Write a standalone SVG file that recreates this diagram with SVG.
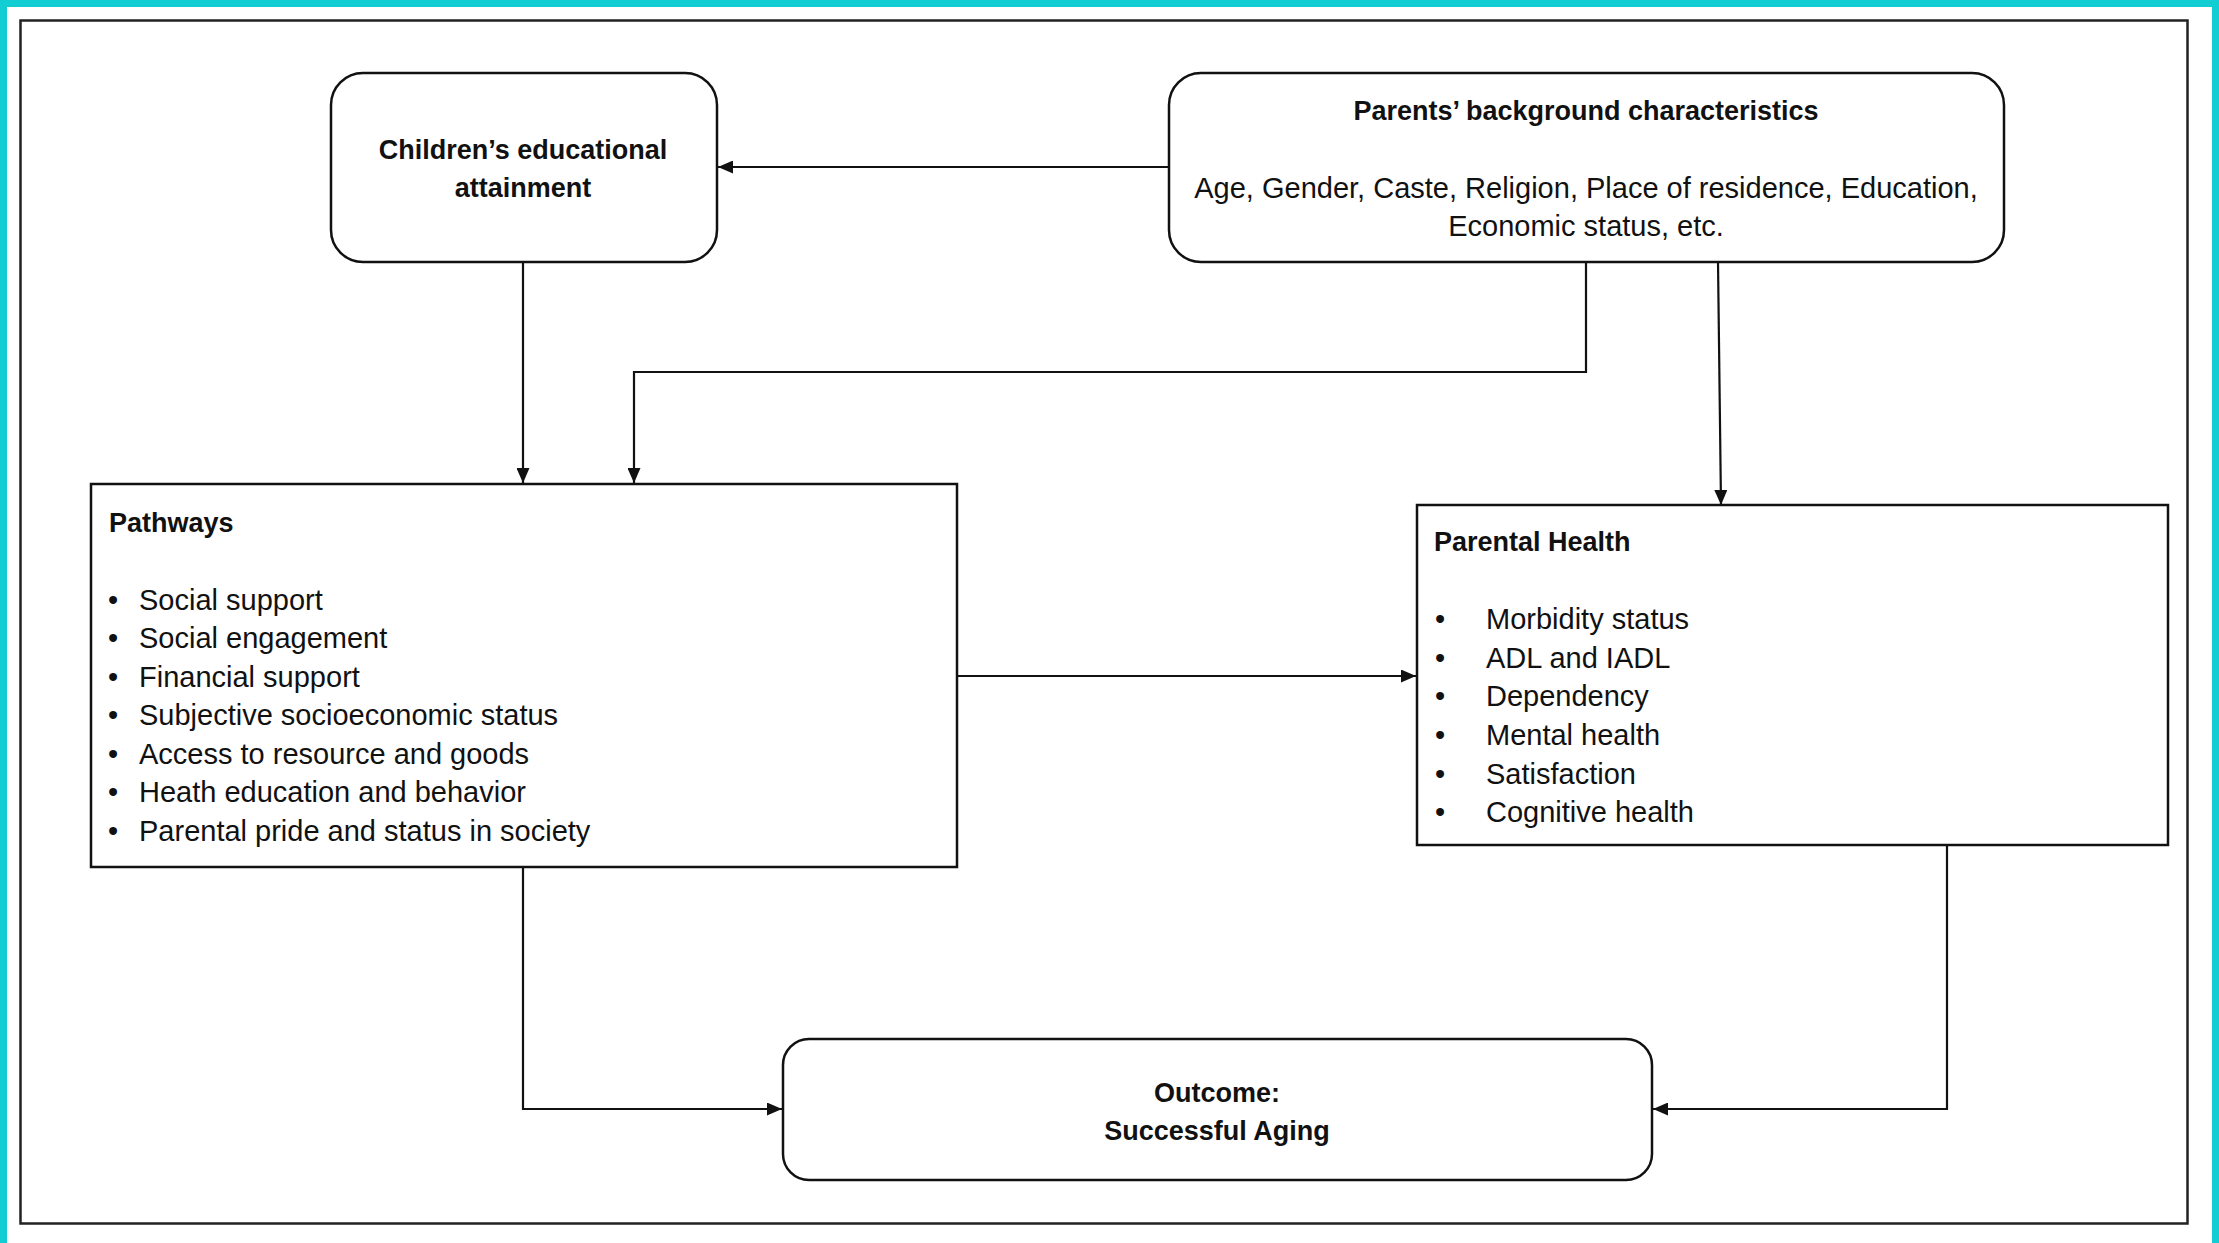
<svg xmlns="http://www.w3.org/2000/svg" width="2219" height="1243" viewBox="0 0 2219 1243">
<style>
.frame{fill:none;stroke:#12cdd2;stroke-width:7}
.border{fill:none;stroke:#222;stroke-width:2.5}
.box{fill:#fff;stroke:#111;stroke-width:2.5}
.conn{fill:none;stroke:#111;stroke-width:2.2}
text{font-family:"Liberation Sans",Arial,sans-serif;fill:#111}
.t{font-size:27px;font-weight:bold}
.b{font-size:29px}
.c{text-anchor:middle}
</style>
<defs>
<marker id="ah" viewBox="0 0 15 13" refX="15" refY="6.5" markerWidth="15" markerHeight="13" markerUnits="userSpaceOnUse" orient="auto">
<path d="M0,0 L15,6.5 L0,13 Z" fill="#111"/>
</marker>
</defs>
<rect width="2219" height="1243" fill="#fff"/>
<path class="frame" d="M3.5,1243 V3.5 H2215.5 V1243"/>
<rect class="border" x="20.5" y="20.5" width="2167" height="1203"/>

<g id="connectors">
<line class="conn" x1="1169" y1="167" x2="718" y2="167" marker-end="url(#ah)"/>
<line class="conn" x1="523" y1="262" x2="523" y2="483" marker-end="url(#ah)"/>
<polyline class="conn" points="1586,262 1586,372 634,372 634,483" marker-end="url(#ah)"/>
<line class="conn" x1="1718" y1="262" x2="1721" y2="505" marker-end="url(#ah)"/>
<line class="conn" x1="957" y1="676" x2="1416" y2="676" marker-end="url(#ah)"/>
<polyline class="conn" points="523,867 523,1109 782,1109" marker-end="url(#ah)"/>
<polyline class="conn" points="1947,845 1947,1109 1653,1109" marker-end="url(#ah)"/>
</g>

<g id="children">
<rect class="box" x="331" y="73" width="386" height="189" rx="32"/>
<text class="t c" x="523" y="159">Children’s educational</text>
<text class="t c" x="523" y="197">attainment</text>
</g>

<g id="parents">
<rect class="box" x="1169" y="73" width="835" height="189" rx="32"/>
<text class="t c" x="1586" y="120">Parents’ background characteristics</text>
<text class="b c" x="1586" y="198">Age, Gender, Caste, Religion, Place of residence, Education,</text>
<text class="b c" x="1586" y="236">Economic status, etc.</text>
</g>

<g id="pathways">
<rect class="box" x="91" y="484" width="866" height="383"/>
<text class="t" x="109" y="532">Pathways</text>
<g class="b">
<text x="108" y="610">•</text><text x="139" y="610">Social support</text>
<text x="108" y="648">•</text><text x="139" y="648">Social engagement</text>
<text x="108" y="687">•</text><text x="139" y="687">Financial support</text>
<text x="108" y="725">•</text><text x="139" y="725">Subjective socioeconomic status</text>
<text x="108" y="764">•</text><text x="139" y="764">Access to resource and goods</text>
<text x="108" y="802">•</text><text x="139" y="802">Heath education and behavior</text>
<text x="108" y="841">•</text><text x="139" y="841">Parental pride and status in society</text>
</g>
</g>

<g id="parental-health">
<rect class="box" x="1417" y="505" width="751" height="340"/>
<text class="t" x="1434" y="551">Parental Health</text>
<g class="b">
<text x="1435" y="629">•</text><text x="1486" y="629">Morbidity status</text>
<text x="1435" y="668">•</text><text x="1486" y="668">ADL and IADL</text>
<text x="1435" y="706">•</text><text x="1486" y="706">Dependency</text>
<text x="1435" y="745">•</text><text x="1486" y="745">Mental health</text>
<text x="1435" y="784">•</text><text x="1486" y="784">Satisfaction</text>
<text x="1435" y="822">•</text><text x="1486" y="822">Cognitive health</text>
</g>
</g>

<g id="outcome">
<rect class="box" x="783" y="1039" width="869" height="141" rx="26"/>
<text class="t c" x="1217" y="1102">Outcome:</text>
<text class="t c" x="1217" y="1140">Successful Aging</text>
</g>
</svg>
